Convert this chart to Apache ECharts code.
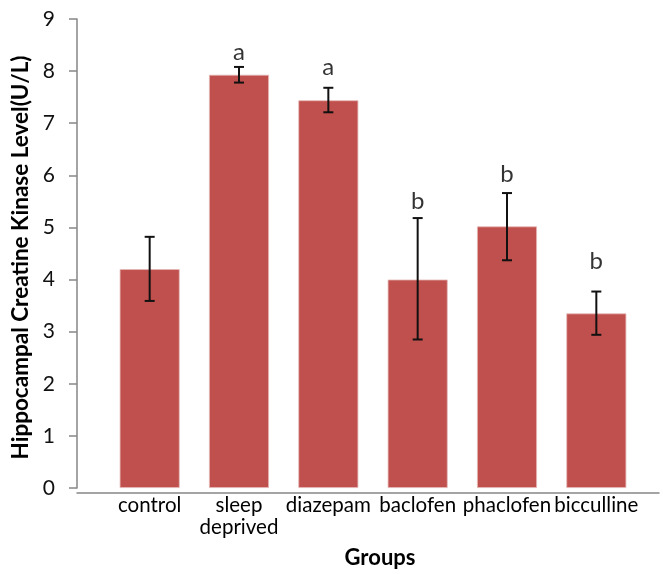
<!DOCTYPE html>
<html><head><meta charset="utf-8">
<script src="https://cdn.jsdelivr.net/npm/echarts@6/dist/echarts.min.js"></script>
<style>html,body{margin:0;padding:0;background:#fff}#c{width:663px;height:574px}</style>
</head><body><div id="c"></div>
<script>
const categories = ['control', 'sleep\ndeprived', 'diazepam', 'baclofen', 'phaclofen', 'bicculline'];
const means = [4.2, 7.93, 7.44, 4.0, 5.02, 3.35];
const errLow = [3.59, 7.78, 7.21, 2.85, 4.37, 2.94];
const errHigh = [4.82, 8.08, 7.68, 5.18, 5.66, 3.77];
const letters = ['', 'a', 'a', 'b', 'b', 'b'];
const letterY = [null, 8.37, 8.07, 5.51, 6.02, 4.35];
const yTicks = [0, 1, 2, 3, 4, 5, 6, 7, 8, 9];

const FONT = 'Lato, "Open Sans", sans-serif';
const chart = echarts.init(document.getElementById('c'));
chart.setOption({
  animation: false,
  grid: [
    {left: 105, right: 22, top: 19, bottom: 81},
    {left: 77, right: 4, top: 19, bottom: 81}
  ],
  xAxis: [
    {
      type: 'category', gridIndex: 0, data: categories,
      axisLine: {show: false}, axisTick: {show: false},
      axisLabel: {fontFamily: FONT, fontSize: 20.5, color: '#000', margin: 6, lineHeight: 22, interval: 0},
      name: 'Groups', nameLocation: 'middle', nameGap: 59,
      nameTextStyle: {fontFamily: FONT, fontSize: 22, fontWeight: 'bold', color: '#000', padding: [0, 0, 0, 14]}
    },
    {
      type: 'category', gridIndex: 1, data: [''],
      axisLine: {show: true, lineStyle: {color: '#868686', width: 1.5}},
      axisTick: {show: false}, axisLabel: {show: false}
    }
  ],
  yAxis: [
    {
      type: 'value', gridIndex: 0, min: yTicks[0], max: yTicks[yTicks.length - 1], interval: 1,
      offset: 28,
      axisLine: {show: true, lineStyle: {color: '#868686', width: 1.5}},
      axisTick: {show: true, length: 8, lineStyle: {color: '#868686', width: 1.5}},
      splitLine: {show: false},
      axisLabel: {fontFamily: FONT, fontSize: 21, color: '#111', margin: 22},
      name: 'Hippocampal Creatine Kinase Level(U/L)', nameLocation: 'middle', nameGap: 44,
      nameTextStyle: {fontFamily: FONT, fontSize: 22.5, fontWeight: 'bold', color: '#000', padding: [0, 8, 0, 0]}
    },
    {
      type: 'value', gridIndex: 1, min: 0, max: 9, show: false
    }
  ],
  series: [
    {
      type: 'bar', xAxisIndex: 0, yAxisIndex: 0, data: means, barWidth: 60,
      itemStyle: {color: '#C0504D', borderColor: '#E6B9B8', borderWidth: 0.8}
    },
    {
      type: 'custom', xAxisIndex: 0, yAxisIndex: 0, z: 5,
      data: categories.map((c, i) => [i, errLow[i], errHigh[i]]),
      renderItem: function (params, api) {
        const lo = api.coord([api.value(0), api.value(1)]);
        const hi = api.coord([api.value(0), api.value(2)]);
        const w = 5;
        const st = {stroke: '#111', lineWidth: 2};
        return {type: 'group', children: [
          {type: 'line', shape: {x1: hi[0], y1: hi[1], x2: lo[0], y2: lo[1]}, style: st},
          {type: 'line', shape: {x1: hi[0] - w, y1: hi[1], x2: hi[0] + w, y2: hi[1]}, style: st},
          {type: 'line', shape: {x1: lo[0] - w, y1: lo[1], x2: lo[0] + w, y2: lo[1]}, style: st}
        ]};
      }
    },
    {
      type: 'scatter', xAxisIndex: 0, yAxisIndex: 0, symbolSize: 0, z: 6,
      data: categories.map((c, i) => letterY[i] == null ? null : [i, letterY[i]]).filter(d => d),
      label: {
        show: true, position: 'inside', fontFamily: FONT, fontSize: 24, color: '#000',
        formatter: p => letters[p.data[0]]
      }
    }
  ]
});
</script></body></html>
